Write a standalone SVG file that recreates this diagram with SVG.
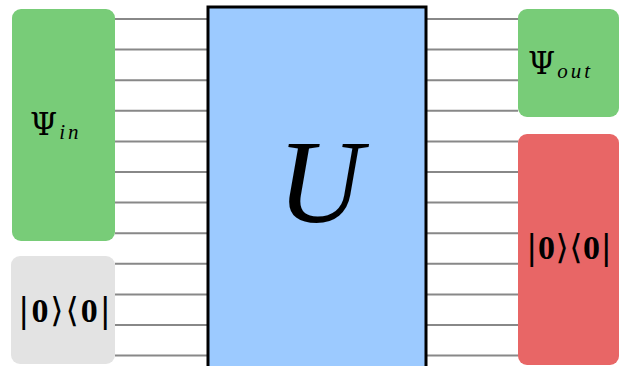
<svg xmlns="http://www.w3.org/2000/svg" width="619" height="366" viewBox="0 0 619 366">
<style>
.wire{stroke:#888;stroke-width:2;fill:none}
.math{font-family:"Liberation Serif","DejaVu Serif",serif;fill:#000}
.psi{font-family:"DejaVu Serif",serif;font-size:31px}
.sub{font-family:"Liberation Serif",serif;font-style:italic;font-size:21px;letter-spacing:3px}
.br{font-family:"DejaVu Serif","Liberation Serif",serif;font-weight:normal}
.z{font-weight:bold}
</style>
<rect width="619" height="366" fill="#fff"/>
<g id="connectors">
<path class="wire" d="M115 19H208M115 49.6H208M115 80.2H208M115 110.8H208M115 141.4H208M115 172H208M115 202.6H208M115 233.2H208M115 263.8H208M115 294.4H208M115 325H208M115 355.6H208"/>
<path class="wire" d="M426 19H518M426 49.6H518M426 80.2H518M426 110.8H518M426 141.4H518M426 172H518M426 202.6H518M426 233.2H518M426 263.8H518M426 294.4H518M426 325H518M426 355.6H518"/>
</g>
<g id="psi_in">
<rect x="12" y="9" width="103" height="232" rx="9" fill="#78cc78"/>
<text class="math" x="30" y="135"><tspan class="psi">Ψ</tspan><tspan class="sub" dx="2" dy="4">in</tspan></text>
</g>
<g id="ancilla_in">
<rect x="11" y="256" width="104" height="108" rx="9" fill="#e3e3e3"/>
<text class="math" x="18" y="322" font-size="34" textLength="93" lengthAdjust="spacing"><tspan class="br">|</tspan><tspan class="z">0</tspan><tspan class="br">⟩⟨</tspan><tspan class="z">0</tspan><tspan class="br">|</tspan></text>
</g>
<g id="U">
<rect x="208" y="7" width="218" height="370" fill="#9ccaff" stroke="#000" stroke-width="3"/>
<text class="math" x="320" y="222" text-anchor="middle" font-size="118" font-style="italic">U</text>
</g>
<g id="psi_out">
<rect x="518" y="9" width="101" height="108" rx="9" fill="#78cc78"/>
<text class="math" x="528" y="74"><tspan class="psi">Ψ</tspan><tspan class="sub" dx="2" dy="4">out</tspan></text>
</g>
<g id="ancilla_out">
<rect x="518" y="134" width="101" height="231" rx="9" fill="#e86666"/>
<text class="math" x="526" y="259" font-size="34" textLength="86" lengthAdjust="spacing"><tspan class="br">|</tspan><tspan class="z">0</tspan><tspan class="br">⟩⟨</tspan><tspan class="z">0</tspan><tspan class="br">|</tspan></text>
</g>
</svg>
